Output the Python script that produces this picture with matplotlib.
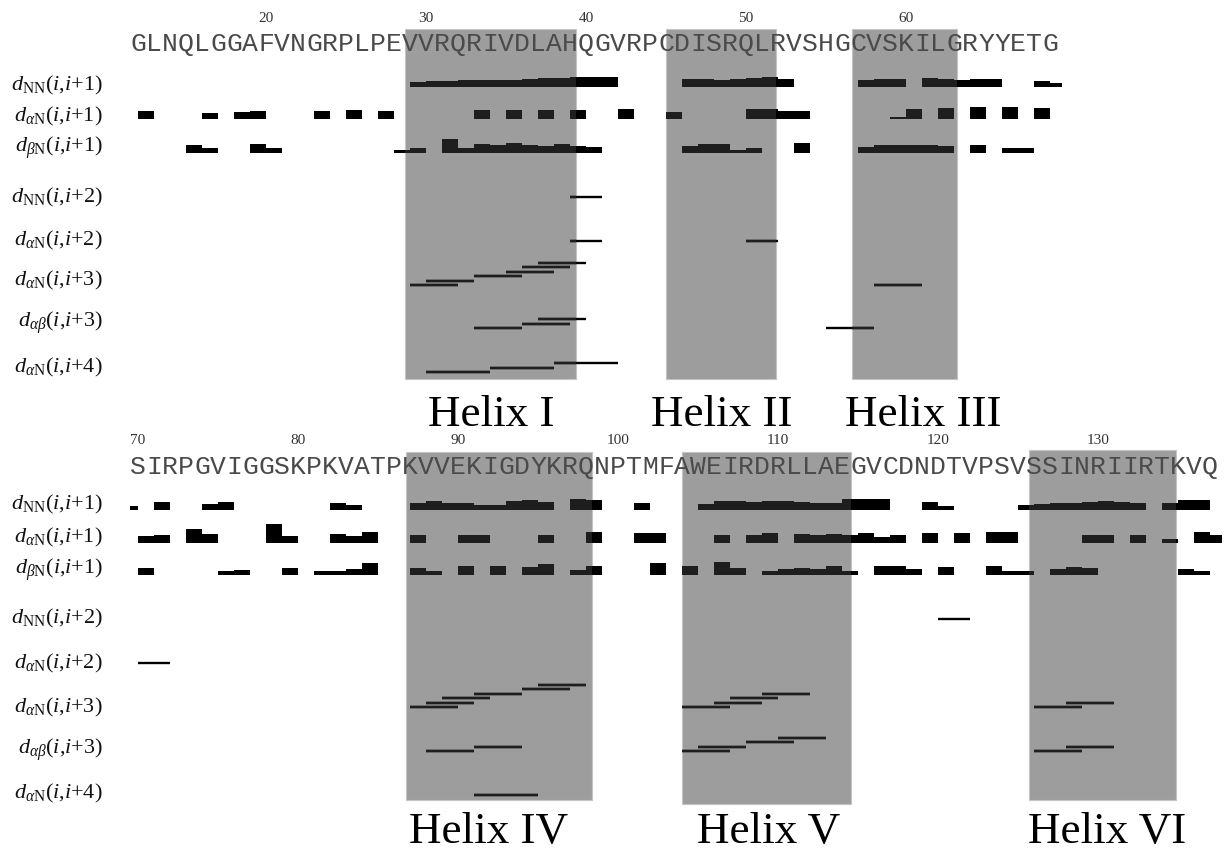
import matplotlib
matplotlib.use('Agg')
import matplotlib.pyplot as plt
from matplotlib.patches import Rectangle

plt.rcParams['mathtext.fontset'] = 'custom'
plt.rcParams['mathtext.rm'] = 'Liberation Serif'
plt.rcParams['mathtext.it'] = 'Liberation Serif:italic'
plt.rcParams['mathtext.bf'] = 'Liberation Serif:bold'

# ---- sequence ----
seq_top = "GLNQLGGAFVNGRPLPEVVRQRIVDLAHQGVRPCDISRQLRVSHGCVSKILGRYYETG"
first_top = 12
seq_bot = "SIRPGVIGGSKPKVATPKVVEKIGDYKRQNPTMFAWEIRDRLLAEGVCDNDTVPSVSSINRIIRTKVQ"
first_bot = 70
ticks_top = [20, 30, 40, 50, 60]
ticks_bot = [70, 80, 90, 100, 110, 120, 130]

row_labels = [r'$d_{\mathrm{NN}}(i{,}i{+}1)$',
              r'$d_{\alpha\mathrm{N}}(i{,}i{+}1)$',
              r'$d_{\beta\mathrm{N}}(i{,}i{+}1)$',
              r'$d_{\mathrm{NN}}(i{,}i{+}2)$',
              r'$d_{\alpha\mathrm{N}}(i{,}i{+}2)$',
              r'$d_{\alpha\mathrm{N}}(i{,}i{+}3)$',
              r'$d_{\alpha\beta}(i{,}i{+}3)$',
              r'$d_{\alpha\mathrm{N}}(i{,}i{+}4)$']

# helices (name, first edge, last edge) in residue numbers
helix_names_top = ['Helix I', 'Helix II', 'Helix III']
helix_start_top = [28.7, 45.0, 56.6]
helix_end_top = [39.4, 51.9, 63.2]
helix_names_bot = ['Helix IV', 'Helix V', 'Helix VI']
helix_start_bot = [86.75, 104.0, 125.7]
helix_end_bot = [98.4, 114.55, 134.85]

# sequential NOEs: residue i -> i+1, value = bar height (intensity)
dNN1_top = {29: 5, 30: 6, 31: 6, 32: 7, 33: 7, 34: 7, 35: 7, 36: 8, 37: 9, 38: 9,
            39: 10, 40: 10, 41: 10, 46: 8, 47: 8, 48: 7, 49: 8, 50: 9, 51: 10,
            52: 8, 57: 7, 58: 8, 59: 8, 61: 9, 62: 8, 63: 7, 64: 8, 65: 8, 68: 6}
daN1_top = {12: 8, 16: 6, 18: 7, 19: 8, 23: 8, 25: 9, 27: 8, 33: 9, 35: 9, 37: 9,
            39: 9, 42: 10, 45: 7, 50: 10, 51: 10, 52: 8, 53: 8, 59: 2, 60: 10,
            62: 11, 64: 12, 66: 12, 68: 11}
dbN1_top = {15: 8, 16: 5, 19: 9, 20: 5, 28: 3, 29: 5, 31: 14, 32: 5, 33: 9, 34: 8,
            35: 10, 36: 8, 37: 7, 38: 9, 39: 7, 40: 6, 46: 7, 47: 9, 48: 9, 49: 3,
            50: 5, 53: 10, 57: 6, 58: 8, 59: 8, 60: 8, 61: 8, 62: 7, 64: 8, 66: 5,
            67: 5}

dNN1_bot = {71: 8, 74: 6, 75: 8, 82: 7, 83: 5, 87: 7, 88: 9, 89: 7, 90: 7, 91: 5,
            92: 5, 93: 9, 94: 10, 95: 8, 97: 11, 98: 10, 101: 7, 105: 6, 106: 9,
            107: 9, 108: 8, 109: 9, 110: 9, 111: 8, 112: 7, 113: 7, 114: 11,
            115: 11, 116: 11, 119: 8, 120: 4, 125: 5, 126: 6, 127: 7, 128: 7,
            129: 8, 130: 9, 131: 8, 132: 7, 134: 7, 135: 10, 136: 10}
daN1_bot = {70: 7, 71: 8, 73: 14, 74: 9, 78: 19, 79: 7, 82: 9, 83: 7, 84: 11, 87: 8,
            90: 8, 91: 8, 95: 8, 98: 11, 101: 10, 102: 10, 106: 8, 108: 8, 109: 10,
            111: 9, 112: 8, 113: 9, 114: 8, 115: 10, 116: 6, 117: 8, 119: 10,
            121: 10, 123: 11, 124: 11, 129: 8, 130: 8, 132: 8, 134: 4, 136: 11}
dbN1_bot = {70: 7, 75: 4, 76: 5, 79: 7, 81: 4, 82: 4, 83: 6, 84: 12, 87: 7, 88: 4,
            90: 9, 92: 9, 94: 8, 95: 11, 97: 5, 98: 9, 102: 12, 104: 9, 106: 13,
            107: 7, 109: 4, 110: 6, 111: 7, 112: 6, 113: 9, 114: 4, 116: 9, 117: 9,
            118: 6, 120: 8, 123: 9, 124: 4, 125: 4, 127: 6, 128: 8, 129: 7, 135: 6,
            136: 4}

# connections broken at the panel edges: (row, from, to, height)
partial_top = [(0, 69, 69.75, 4)]
partial_bot = [(0, 69.5, 70, 4), (1, 137, 137.75, 8)]

# medium-range NOEs: starting residue i
dNN2_top, daN2_top = [39], [39, 50]
daN3_top = [29, 30, 33, 35, 36, 37, 58]
dab3_top = [33, 36, 37, 55]
daN4_top = [30, 34, 38]

dNN2_bot, daN2_bot = [120], [70]
daN3_bot = [87, 88, 89, 91, 94, 95, 104, 106, 107, 109, 126, 128]
dab3_bot = [88, 91, 104, 105, 108, 110, 126, 128]
daN4_bot = [91]

BOX = '#9d9d9d'
INK_IN = '#1e1e1e'


def stack_levels(starts, span):
    # lines that touch or overlap are stepped upward one after another
    levels, prev_end, lev = [], None, 0
    for s in sorted(starts):
        lev = lev + 1 if prev_end is not None and s <= prev_end else 0
        levels.append(lev)
        prev_end = s + span
    return sorted(starts), levels


def draw_panel(ax, seq, first, ticks, names, hs, he, label_x, seqrows, partial,
               midrows, box_top, box_bot, lay):
    ax.set_xlim(first - 138 / 16, first + 1091 / 16)
    ax.set_ylim(852, 0)
    ax.axis('off')

    boxes = []
    for s, e, bt, bb in zip(hs, he, box_top, box_bot):
        r = Rectangle((s, bt), e - s, bb - bt, facecolor=BOX, edgecolor='#c4c4c4',
                      linewidth=0.8, zorder=1)
        ax.add_patch(r)
        boxes.append(r)
    for name, lx in zip(names, label_x):
        ax.text(lx, lay['helix_y'], name, ha='center', va='baseline',
                fontsize=32.5, family='Liberation Serif')

    for k, ch in enumerate(seq):
        ax.text(first + k, lay['seq_y'], ch, ha='center', va='center',
                fontsize=19, family='Liberation Mono', color='#4a4a4a', zorder=3)
    for t in ticks:
        ax.text(t, lay['tick_y'], str(t), ha='center', va='center', fontsize=11,
                family='Liberation Serif', color='#333333')

    for lab, ly in zip(row_labels, lay['label_y']):
        ax.text(first - 35 / 16, ly, lab, ha='right', va='center', fontsize=16,
                color='#111111')

    # sequential bars, bottom aligned on each row
    for clip, col in [(None, 'black')] + [(b, INK_IN) for b in boxes]:
        for row, d in enumerate(seqrows):
            base = lay['mark_y'][row]
            xs = list(d.keys())
            hs_ = list(d.values())
            bars = ax.bar(xs, hs_, width=1, bottom=[base - h for h in hs_],
                          align='edge', color=col, linewidth=0, zorder=2)
            for (prow, x0, x1, h) in partial:
                if prow == row:
                    p = ax.bar([x0], [h], width=x1 - x0, bottom=[base - h],
                               align='edge', color=col, linewidth=0, zorder=2)
                    bars = list(bars) + list(p)
            if clip is not None:
                for b in bars:
                    b.set_clip_path(clip)

        # medium range connectivities as thin lines
        for row, (starts, span) in enumerate(midrows):
            base = lay['mark_y'][3 + row]
            ss, lv = stack_levels(starts, span)
            ys = [base - 4.4 * l for l in lv]
            lc = ax.hlines(ys, ss, [s + span for s in ss], colors=col,
                           linewidth=1.7, zorder=2)
            if clip is not None:
                lc.set_clip_path(clip)


fig = plt.figure(figsize=(12.29, 8.52), dpi=100)
ax_top = fig.add_axes([0, 0, 1, 1])
ax_bot = fig.add_axes([0, 0, 1, 1])
ax_bot.patch.set_alpha(0)

lay_top = dict(tick_y=18, seq_y=44, helix_y=426,
               label_y=[85, 116, 148, 197, 240, 280, 323, 367],
               mark_y=[87, 119, 153, 197, 241, 285, 328, 372])
lay_bot = dict(tick_y=441, seq_y=467, helix_y=843,
               label_y=[504, 537, 570, 618, 663, 707, 750, 793],
               mark_y=[510, 543, 575, 619, 663, 707, 751, 795])

draw_panel(ax_top, seq_top, first_top, ticks_top, helix_names_top,
           helix_start_top, helix_end_top, [34.1, 48.5, 61.1],
           [dNN1_top, daN1_top, dbN1_top], partial_top,
           [(dNN2_top, 2), (daN2_top, 2), (daN3_top, 3), (dab3_top, 3), (daN4_top, 4)],
           [29, 29, 29], [379, 379, 379], lay_top)
draw_panel(ax_bot, seq_bot, first_bot, ticks_bot, helix_names_bot,
           helix_start_bot, helix_end_bot, [91.9, 109.4, 130.6],
           [dNN1_bot, daN1_bot, dbN1_bot], partial_bot,
           [(dNN2_bot, 2), (daN2_bot, 2), (daN3_bot, 3), (dab3_bot, 3), (daN4_bot, 4)],
           [452, 452, 450], [800, 804, 800], lay_bot)

fig.savefig('out.png', dpi=100)
